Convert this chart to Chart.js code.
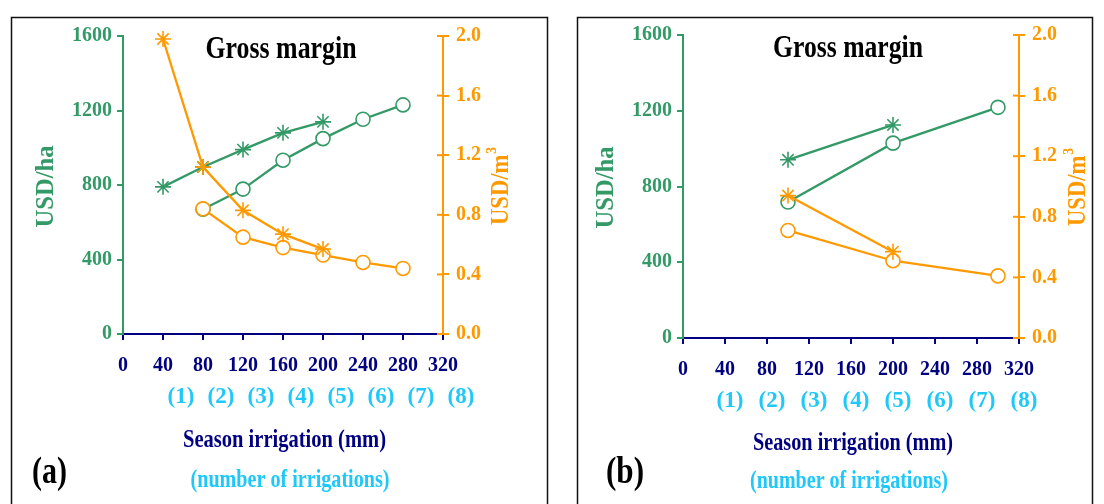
<!DOCTYPE html>
<html><head><meta charset="utf-8">
<script src="https://cdn.jsdelivr.net/npm/chart.js@4.4.1/dist/chart.umd.min.js"></script>
<style>
html,body{margin:0;padding:0;background:#fff;width:1104px;height:504px;overflow:hidden;}
canvas{position:absolute;left:0;top:0;}
</style></head><body>
<canvas id="ca" width="1104" height="504"></canvas>
<canvas id="cb" width="1104" height="504"></canvas>
<script>
// ---- data ----
const mmTicks = [0, 40, 80, 120, 160, 200, 240, 280, 320];
const irrigationTickMm = [40, 80, 120, 160, 200, 240, 280, 320];
const irrigationLabels = ['(1)', '(2)', '(3)', '(4)', '(5)', '(6)', '(7)', '(8)'];
const haTicks = [0, 400, 800, 1200, 1600];
const m3Ticks = [0, 0.4, 0.8, 1.2, 1.6, 2.0];

// panel (a)
const aStarMm = [40, 80, 120, 160, 200];
const aStarUsdHa = [790, 897, 990, 1080, 1139];
const aStarUsdM3 = [1.98, 1.12, 0.83, 0.67, 0.57];
const aCircleMm = [80, 120, 160, 200, 240, 280];
const aCircleUsdHa = [670, 778, 933, 1049, 1153, 1230];
const aCircleUsdM3 = [0.84, 0.65, 0.58, 0.53, 0.48, 0.44];

// panel (b)
const bStarMm = [100, 200];
const bStarUsdHa = [941, 1125];
const bStarUsdM3 = [0.94, 0.57];
const bCircleMm = [100, 200, 300];
const bCircleUsdHa = [718, 1029, 1218];
const bCircleUsdM3 = [0.71, 0.51, 0.41];

const titleText = 'Gross margin';
const yLeftTitle = 'USD/ha';
const yRightTitle = 'USD/m';
const yRightSup = '3';
const xTitle = 'Season irrigation (mm)';
const xSubTitle = '(number of irrigations)';

// ---- styles ----
const GREEN = '#339966', ORANGE = '#FF9900', NAVY = '#000080', CYAN = '#1FC8F8';
const FAMILY = "'Liberation Serif','Times New Roman',serif";
Chart.defaults.font.family = FAMILY;

function xy(xs, ys) { return xs.map((x, i) => ({ x: x, y: ys[i] })); }

function fitText(ctx, text, x, y, font, color, width, baseline, rot) {
  ctx.save();
  ctx.font = font; ctx.fillStyle = color; ctx.textAlign = 'center';
  ctx.textBaseline = baseline || 'alphabetic';
  ctx.translate(x, y);
  if (rot) ctx.rotate(rot);
  const w = ctx.measureText(text).width;
  const s = width ? width / w : 1;
  ctx.scale(s, 1);
  ctx.fillText(text, 0, 0);
  ctx.restore();
}

function supLabel(ctx, main, sup, cx, cy, length) {
  ctx.save();
  ctx.translate(cx, cy);
  ctx.rotate(-Math.PI / 2);
  const f1 = 'bold 25px ' + FAMILY, f2 = 'bold 15px ' + FAMILY;
  ctx.font = f1; const w1 = ctx.measureText(main).width;
  ctx.font = f2; const w2 = ctx.measureText(sup).width;
  const s = length / (w1 + w2 + 1);
  ctx.scale(s, 1);
  ctx.fillStyle = ORANGE; ctx.textBaseline = 'middle'; ctx.textAlign = 'left';
  const start = -(w1 + w2 + 1) / 2;
  ctx.font = f1; ctx.fillText(main, start, 0);
  ctx.font = f2; ctx.fillText(sup, start + w1 + 1, -10);
  ctx.restore();
}

const deco = {
  id: 'deco',
  afterDraw(chart) {
    const g = chart.options.plugins.deco;
    const ctx = chart.ctx;
    ctx.save();
    ctx.strokeStyle = '#111'; ctx.lineWidth = 1.5;
    ctx.strokeRect(g.frame[0], g.frame[1], g.frame[2], g.frame[3]);
    ctx.restore();
    const y2 = chart.scales.y2;
    ctx.save();
    ctx.strokeStyle = ORANGE; ctx.lineWidth = 2;
    m3Ticks.forEach(v => {
      const py = y2.getPixelForValue(v);
      ctx.beginPath(); ctx.moveTo(y2.left - 6, py); ctx.lineTo(y2.left, py); ctx.stroke();
    });
    ctx.restore();
    fitText(ctx, titleText, g.title[0], g.title[1], 'bold 31px ' + FAMILY, '#000', g.title[2]);
    fitText(ctx, yLeftTitle, g.ha[0], g.ha[1], 'bold 25px ' + FAMILY, GREEN, g.ha[2], 'middle', -Math.PI / 2);
    supLabel(ctx, yRightTitle, yRightSup, g.m3[0], g.m3[1], g.m3[2]);
    fitText(ctx, xTitle, g.xt[0], g.xt[1], 'bold 26px ' + FAMILY, NAVY, g.xt[2]);
    fitText(ctx, xSubTitle, g.nt[0], g.nt[1], 'bold 26px ' + FAMILY, CYAN, g.nt[2]);
    fitText(ctx, g.letter, g.lt[0], g.lt[1], 'bold 37px ' + FAMILY, '#000', g.lt[2]);
  }
};

function panel(id, d, g) {
  const line = { borderWidth: 2.3, tension: 0, fill: false, pointBorderWidth: 1.6, pointRadius: 7, xAxisID: 'x', clip: false };
  const datasets = [
    Object.assign({}, line, { data: xy(d.starMm, d.starM3), yAxisID: 'y2', borderColor: ORANGE, pointBorderColor: ORANGE, pointStyle: 'star', pointRadius: 8, order: 0 }),
    Object.assign({}, line, { data: xy(d.circMm, d.circM3), yAxisID: 'y2', borderColor: ORANGE, pointBorderColor: ORANGE, pointBackgroundColor: '#fff', pointStyle: 'circle', order: 0 }),
    Object.assign({}, line, { data: xy(d.starMm, d.starHa), yAxisID: 'y', borderColor: GREEN, pointBorderColor: GREEN, pointStyle: 'star', pointRadius: 8, order: 1 }),
    Object.assign({}, line, { data: xy(d.circMm, d.circHa), yAxisID: 'y', borderColor: GREEN, pointBorderColor: GREEN, pointBackgroundColor: '#fff', pointStyle: 'circle', order: 1 })
  ];
  const tickFont = { size: 20, weight: 'bold' };
  return new Chart(document.getElementById(id), {
    type: 'line',
    data: { datasets: datasets },
    options: {
      responsive: false, animation: false, devicePixelRatio: 1,
      layout: { padding: g.pad },
      plugins: { legend: { display: false }, tooltip: { enabled: false }, deco: g },
      scales: {
        x: {
          type: 'linear', axis: 'x', position: 'bottom', min: 0, max: 320, weight: 0,
          afterBuildTicks: s => { s.ticks = mmTicks.map(v => ({ value: v })); },
          afterFit: s => { s.height = 40; },
          ticks: { color: NAVY, font: tickFont, padding: 14, maxRotation: 0, autoSkip: false, callback: v => String(v) },
          grid: { display: true, drawOnChartArea: false, drawTicks: true, tickLength: 6, tickColor: NAVY, color: NAVY, lineWidth: 2 },
          border: { display: true, color: NAVY, width: 2 }
        },
        x2: {
          type: 'linear', axis: 'x', position: 'bottom', min: 0, max: 320, weight: 1,
          afterBuildTicks: s => { s.ticks = irrigationTickMm.map(v => ({ value: v })); },
          afterFit: s => { s.height = 40; },
          ticks: { color: CYAN, font: { size: 23, weight: 'bold' }, padding: 9, labelOffset: g.irrOffset, maxRotation: 0, autoSkip: false,
            callback: (v, i) => irrigationLabels[i] },
          grid: { display: false, drawTicks: false },
          border: { display: false }
        },
        y: {
          type: 'linear', axis: 'y', position: 'left', min: 0, max: 1600,
          afterBuildTicks: s => { s.ticks = haTicks.map(v => ({ value: v })); },
          afterFit: s => { s.width = 50; },
          ticks: { color: GREEN, font: tickFont, padding: 5, callback: v => String(v) },
          grid: { display: true, drawOnChartArea: false, drawTicks: true, tickLength: 6, tickColor: GREEN, color: GREEN, lineWidth: 2 },
          border: { display: true, color: GREEN, width: 2 }
        },
        y2: {
          type: 'linear', axis: 'y', position: 'right', min: 0, max: 2,
          afterBuildTicks: s => { s.ticks = m3Ticks.map(v => ({ value: v })); },
          afterFit: s => { s.width = 50; },
          ticks: { color: ORANGE, font: tickFont, padding: 7, callback: v => Number(v).toFixed(1) },
          grid: { display: true, drawOnChartArea: false, drawTicks: true, tickLength: 6, tickColor: ORANGE, color: ORANGE, lineWidth: 2 },
          border: { display: true, color: ORANGE, width: 2 }
        }
      }
    },
    plugins: [deco]
  });
}

panel('ca',
  { starMm: aStarMm, starHa: aStarUsdHa, starM3: aStarUsdM3, circMm: aCircleMm, circHa: aCircleUsdHa, circM3: aCircleUsdM3 },
  { pad: { left: 73, right: 611, top: 36, bottom: 90 }, irrOffset: 18,
    frame: [11.5, 17.5, 536, 520], title: [281, 58, 151], ha: [46.7, 186.5, 82], m3: [502, 186, 78],
    xt: [284.5, 446.5, 203], nt: [290, 487, 199], letter: '(a)', lt: [49.5, 483, 35] });

panel('cb',
  { starMm: bStarMm, starHa: bStarUsdHa, starM3: bStarUsdM3, circMm: bCircleMm, circHa: bCircleUsdHa, circM3: bCircleUsdM3 },
  { pad: { left: 633, right: 35, top: 35, bottom: 86 }, irrOffset: 5,
    frame: [577.5, 17.5, 515, 520], title: [848, 57, 150], ha: [606.7, 187.5, 82], m3: [1079, 187, 78],
    xt: [853, 450, 200], nt: [849, 488, 198], letter: '(b)', lt: [625, 483, 38] });
</script>
</body></html>
